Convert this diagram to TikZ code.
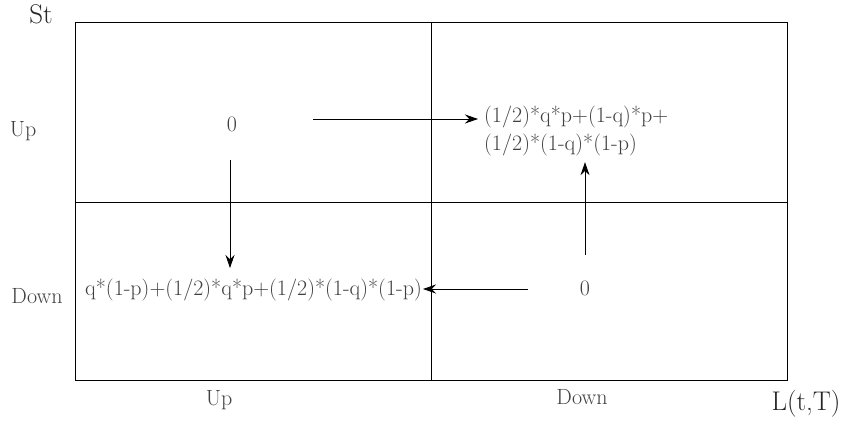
\documentclass[tikz,border=0pt]{standalone}
\usetikzlibrary{arrows.meta}
\begin{document}
\begin{tikzpicture}[x=1pt,y=-1pt,
  lbl/.style={text=black!75,font=\fontsize{22}{28}\selectfont,inner sep=0pt},
  big/.style={text=black!85,font=\fontsize{27}{30}\selectfont,inner sep=0pt},
  arr/.style={-{Stealth[length=13pt,width=9pt]},line width=0.8pt},
  grid/.style={line width=0.8pt}]
\useasboundingbox (0,0) rectangle (856,430);
\draw[grid] (75,22) rectangle (787,380);
\draw[grid] (431,22) -- (431,380);
\draw[grid] (75,202) -- (787,202);
\node[big] (st) at (41,14) {St};
\node[big] (ltt) at (806,404) {L(t,T)};
\node[lbl] (up) at (23,131) {Up};
\node[lbl] (down) at (37,296) {Down};
\node[lbl] (upb) at (219,400) {Up};
\node[lbl] (downb) at (582,397) {Down};
\node[lbl] (z1) at (232,124) {0};
\node[lbl] (z2) at (585,288) {0};
\node[lbl,anchor=west,align=left] (tr) at (484,131) {(1/2)*q*p+(1-q)*p+\\(1/2)*(1-q)*(1-p)};
\node[lbl,anchor=west] (bl) at (85,290) {q*(1-p)+(1/2)*q*p+(1/2)*(1-q)*(1-p)};
\coordinate (a1) at (313,119);
\coordinate (a2) at (230,160);
\coordinate (a3) at (528,289);
\coordinate (a4) at (585,255);
\draw[arr,shorten >=6pt] (a1) -- (tr.west |- a1);
\draw[arr] (a2) -- (230,268);
\draw[arr,shorten >=1pt] (a3) -- (bl.east |- a3);
\draw[arr,shorten >=6pt] (a4) -- (tr.south -| a4);
\end{tikzpicture}
\end{document}
